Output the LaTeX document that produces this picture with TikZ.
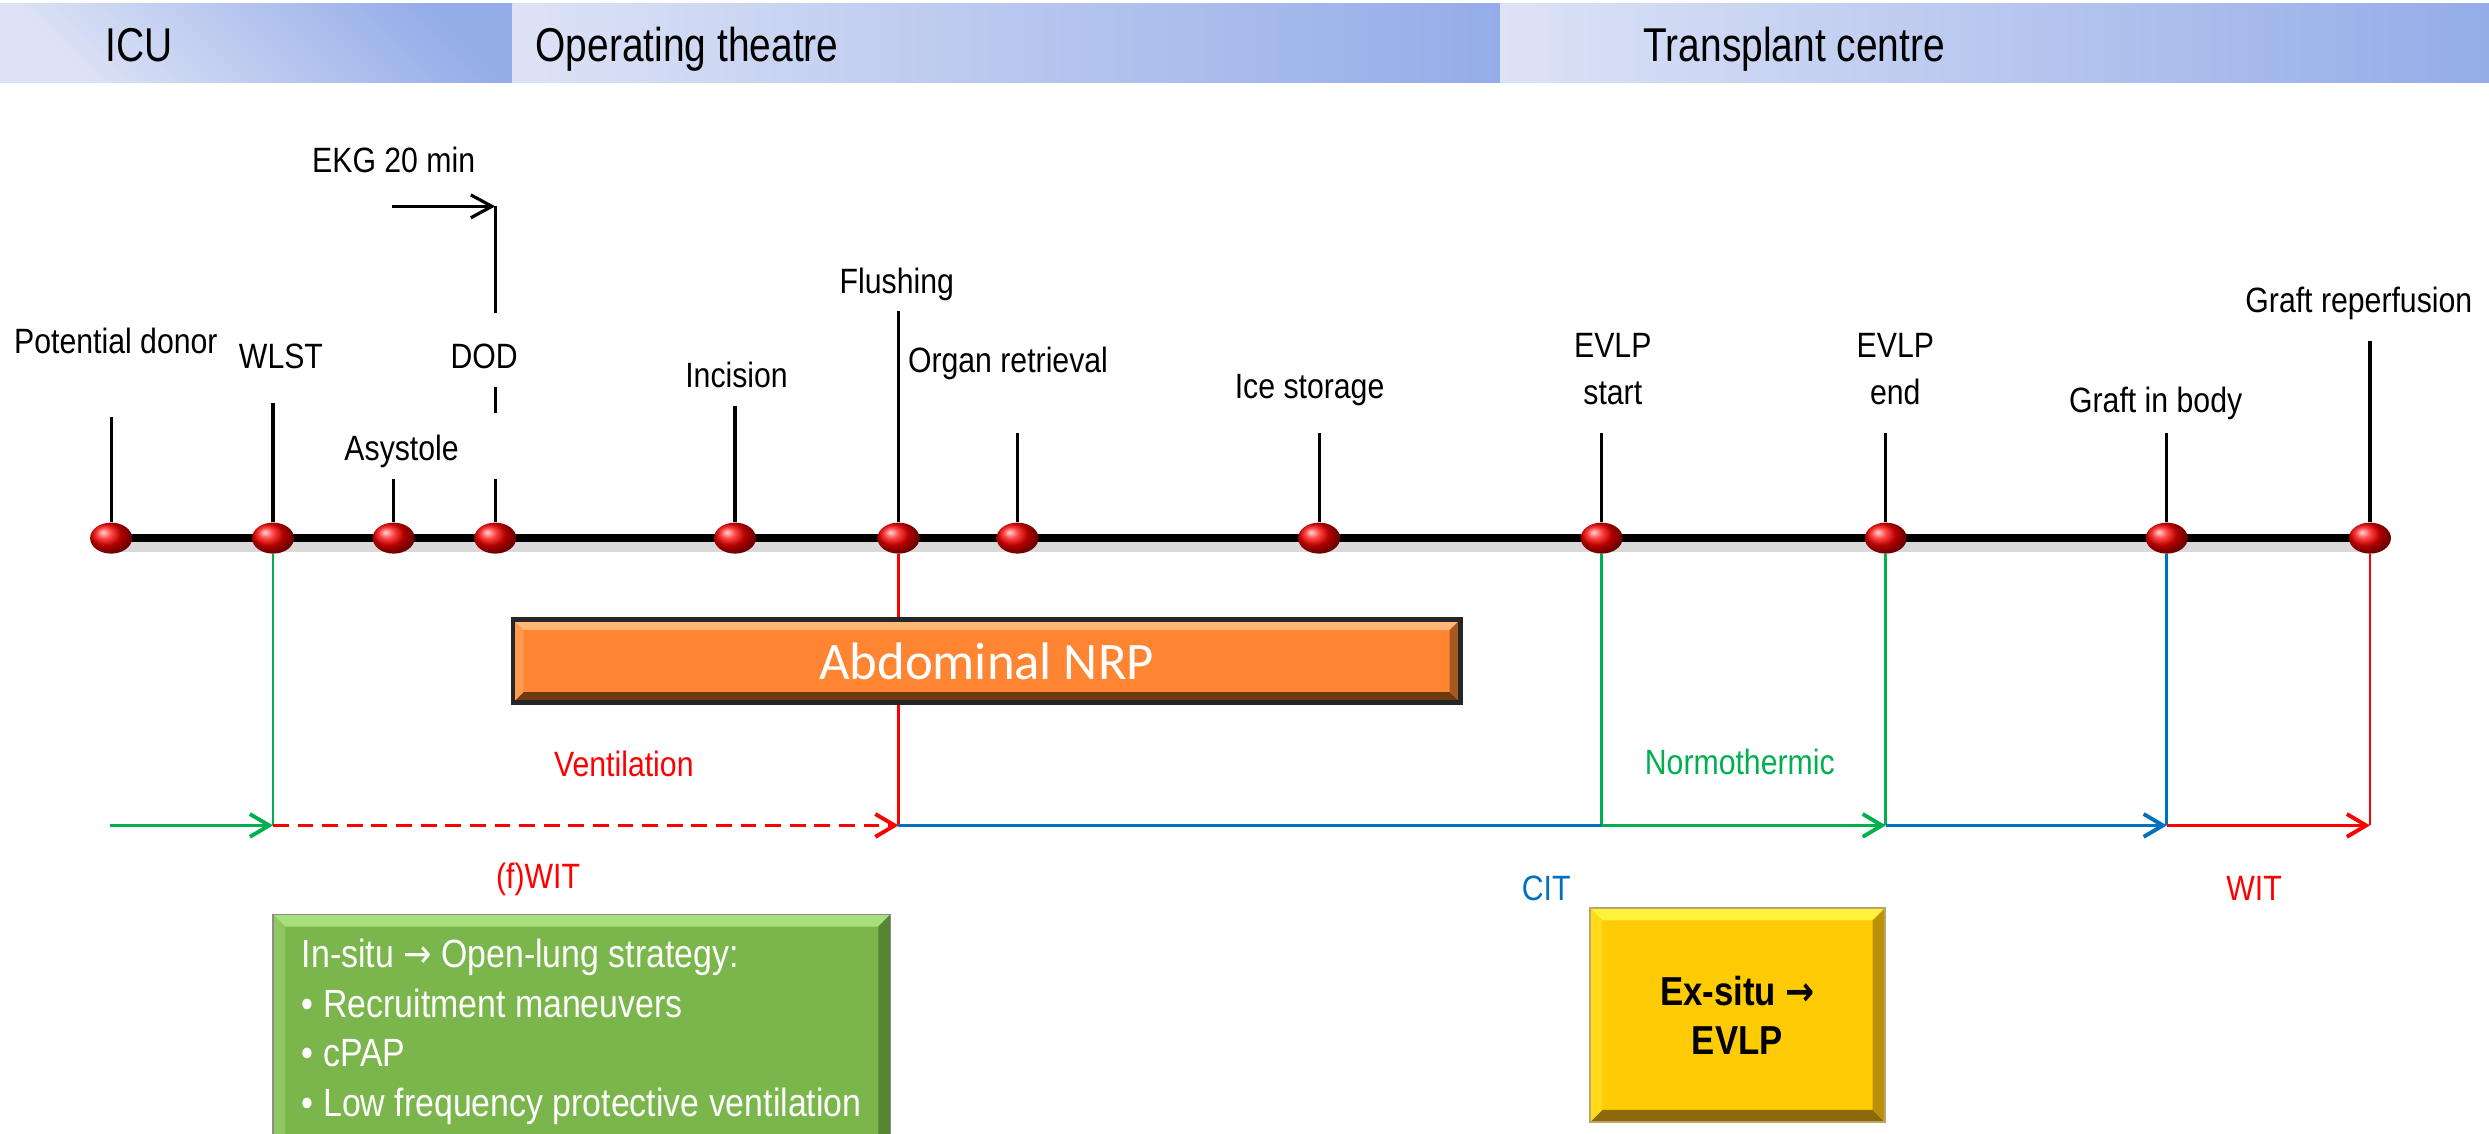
\documentclass[tikz,border=0pt]{standalone}
\usepackage{fontspec}
\setmainfont{Liberation Sans}[FakeStretch=0.86]
\newfontfamily\headfont{Liberation Sans}[FakeStretch=0.82]
\newfontfamily\nrpfont{Carlito}
\newfontfamily\arrowfont{DejaVu Sans}[FakeStretch=0.86]
\usetikzlibrary{positioning}
\usetikzlibrary{arrows.meta}
\usetikzlibrary{shapes.geometric}
\usetikzlibrary{backgrounds}

\definecolor{bandlight}{HTML}{DDE3F6}
\definecolor{banddark}{HTML}{94ACE8}
\definecolor{pptred}{HTML}{FF0000}
\definecolor{pptgreen}{HTML}{00B050}
\definecolor{pptblue}{HTML}{0070C0}
\definecolor{nrporange}{HTML}{FF8533}
\definecolor{nrplight}{HTML}{FFB877}
\definecolor{nrpdark}{HTML}{6E3A12}
\definecolor{boxgreen}{HTML}{7AB64B}
\definecolor{greenlight}{HTML}{A8E07C}
\definecolor{greendark}{HTML}{3E6624}
\definecolor{boxyellow}{HTML}{FFCB05}
\definecolor{yellowlight}{HTML}{FFF23A}
\definecolor{yellowdark}{HTML}{8C6A0C}

\tikzset{
    band/.style={left color=bandlight, right color=banddark},
    phase/.style={ % ICU / theatre / centre headings
        anchor=west, inner sep=0pt,
        font=\headfont\fontsize{13.5}{16}\selectfont,
        text height=9.6pt, text depth=0pt
    },
    event/.style={ % labels above the time line
        inner sep=0pt, font=\fontsize{10}{12}\selectfont,
        text height=7.2pt, text depth=0pt
    },
    period/.style={event, text=#1},
    dot/.style={
        ellipse, minimum width=0.42cm, minimum height=0.31cm, inner sep=0pt,
        shading=ball, ball color=red
    },
    tick/.style={line width=0.9pt},
    ekg/.style={tick, -{Straight Barb[length=6pt,width=6.5pt]}},
    vline/.style={line width=0.8pt, draw=#1},
    flow/.style={line width=1.1pt, draw=#1, -{Straight Barb[length=5.5pt,width=6.5pt]}},
    plain flow/.style={line width=1.1pt, draw=#1},
    bevel/.style n args={4}{ % fill, light edge, dark edge, edge width
        fill=#1,
        path picture={
            \coordinate (bsw) at (path picture bounding box.south west);
            \coordinate (bne) at (path picture bounding box.north east);
            \fill[#2] (bsw |- bne) -- (bne) -- ([shift={(-#4,-#4)}]bne) -- ([shift={(#4,-#4)}]bsw |- bne) -- cycle;
            \fill[#3] (bsw) -- (bne |- bsw) -- ([shift={(-#4,#4)}]bne |- bsw) -- ([shift={(#4,#4)}]bsw) -- cycle;
            \fill[#3!60!#1] (bne) -- (bne |- bsw) -- ([shift={(-#4,#4)}]bne |- bsw) -- ([shift={(-#4,-#4)}]bne) -- cycle;
            \fill[#2!40!#1] (bsw) -- (bsw |- bne) -- ([shift={(#4,-#4)}]bsw |- bne) -- ([shift={(#4,#4)}]bsw) -- cycle;
        }
    },
    nrp box/.style={
        bevel={nrporange}{nrplight}{nrpdark}{3pt},
        draw=black!85, line width=1.3pt,
        minimum width=9.47cm, minimum height=0.83cm,
        font=\nrpfont\fontsize{15}{18}\selectfont, text=white
    },
    insitu box/.style={
        bevel={boxgreen}{greenlight}{greendark}{3.5pt},
        draw=black!45, line width=0.4pt,
        minimum width=6.175cm, minimum height=2.35cm,
        align=left, inner xsep=0.05cm,
        font=\fontsize{11.2}{14.2}\selectfont, text=white
    },
    exsitu box/.style={
        bevel={boxyellow}{yellowlight}{yellowdark}{3.5pt},
        draw=yellowdark!60, line width=0.4pt,
        minimum width=2.95cm, minimum height=2.14cm,
        align=center, font=\bfseries\fontsize{11.5}{14}\selectfont
    }
}

\begin{document}
\begin{tikzpicture}[x=0.015874cm, y=-0.015874cm]
    \useasboundingbox (0,0) rectangle (1568,714);

    % location bands
    \shade[band, shading angle=135] (0,2.5) rectangle (323,52);
    \shade[band] (323,2.5) rectangle (945,52);
    \shade[band] (945,2.5) rectangle (1568,52);
    \node[phase] (icu) at (66,28) {ICU};
    \node[phase] (theatre) at (337,28) {Operating theatre};
    \node[phase] (centre) at (1035,28) {Transplant centre};

    % events on the time line
    \node[dot] (pd) at (70,339) {};
    \node[dot] (wlst) at (172,339) {};
    \node[dot] (asys) at (248,339) {};
    \node[dot] (dod) at (312,339) {};
    \node[dot] (inc) at (463,339) {};
    \node[dot] (flush) at (566,339) {};
    \node[dot] (retr) at (641,339) {};
    \node[dot] (ice) at (831,339) {};
    \node[dot] (evs) at (1009,339) {};
    \node[dot] (eve) at (1188,339) {};
    \node[dot] (gib) at (1365,339) {};
    \node[dot] (rep) at (1493,339) {};

    \node[event] (pdtxt) at (73,215) {Potential donor};
    \node[event] (wlsttxt) at (177,224) {WLST};
    \node[event] (asystxt) at (253,282) {Asystole};
    \node[event] (dodtxt) at (305,224) {DOD};
    \node[event] (ekgtxt) at (248,101) {EKG 20 min};
    \node[event] (inctxt) at (464,236) {Incision};
    \node[event] (flushtxt) at (565,177) {Flushing};
    \node[event] (retrtxt) at (635,227) {Organ retrieval};
    \node[event] (icetxt) at (825,243) {Ice storage};
    \node[event] (evstxt) at (1016,217) {EVLP};
    \node[event, below=2.1mm of evstxt] (evstxtb) {start};
    \node[event] (evetxt) at (1194,217) {EVLP};
    \node[event, below=2.1mm of evetxt] (evetxtb) {end};
    \node[event] (gibtxt) at (1358,252) {Graft in body};
    \node[event] (reptxt) at (1486,189) {Graft reperfusion};

    \coordinate (pdtop) at (70,263);
    \coordinate (wlsttop) at (172,254);
    \coordinate (asystop) at (248,302);
    \coordinate (dodtop) at (312,302);
    \coordinate (dodgapa) at (312,260);
    \coordinate (dodgapb) at (312,244);
    \coordinate (dodup) at (312,197);
    \coordinate (ekgcorner) at (312,130);
    \coordinate (ekgstart) at (247,130);
    \coordinate (inctop) at (463,256);
    \coordinate (flushtop) at (566,196);
    \coordinate (retrtop) at (641,273);
    \coordinate (icetop) at (831,273);
    \coordinate (evstop) at (1009,273);
    \coordinate (evetop) at (1188,273);
    \coordinate (gibtop) at (1365,273);
    \coordinate (reptop) at (1493,215);
    \coordinate (flowstart) at (69,520);

    \begin{scope}[on background layer]
        % time line with its shadow
        \draw[line width=3pt, black!15] ([yshift=-2.5pt]pd.center) -- ([yshift=-2.5pt]rep.center);
        \draw[line width=2.4pt] (pd.center) -- (rep.center);

        \draw[tick] (pd) -- (pdtop);
        \draw[tick] (wlst) -- (wlsttop);
        \draw[tick] (asys) -- (asystop);
        \draw[tick] (dod) -- (dodtop);
        \draw[tick] (dodgapa) -- (dodgapb);
        \draw[tick] (dodup) -- (ekgcorner);
        \draw[tick] (inc) -- (inctop);
        \draw[tick] (flush) -- (flushtop);
        \draw[tick] (retr) -- (retrtop);
        \draw[tick] (ice) -- (icetop);
        \draw[tick] (evs) -- (evstop);
        \draw[tick] (eve) -- (evetop);
        \draw[tick] (gib) -- (gibtop);
        \draw[tick] (rep) -- (reptop);

        % drops to the ischaemia line
        \draw[vline=pptgreen] (wlst) -- (wlst |- flowstart);
        \draw[vline=pptred] (flush) -- (flush |- flowstart);
        \draw[vline=pptgreen] (evs) -- (evs |- flowstart);
        \draw[vline=pptgreen] (eve) -- (eve |- flowstart);
        \draw[vline=pptblue] (gib) -- (gib |- flowstart);
        \draw[vline=pptred] (rep) -- (rep |- flowstart);
    \end{scope}

    \draw[ekg] (ekgstart) -- (ekgcorner);

    % ischaemia times
    \draw[flow=pptgreen] (flowstart) -- (wlst |- flowstart);
    \draw[flow=pptred, dash pattern=on 4.5pt off 2.5pt] (wlst |- flowstart) -- (flush |- flowstart);
    \draw[plain flow=pptblue] (flush |- flowstart) -- (evs |- flowstart);
    \draw[flow=pptgreen] (evs |- flowstart) -- (eve |- flowstart);
    \draw[flow=pptblue] (eve |- flowstart) -- (gib |- flowstart);
    \draw[flow=pptred] (gib |- flowstart) -- (rep |- flowstart);

    \node[period=pptred] (venttxt) at (393,481) {Ventilation};
    \node[period=pptred] (fwittxt) at (339,552) {(f)WIT};
    \node[period=pptgreen] (normtxt) at (1096,480) {Normothermic};
    \node[period=pptblue] (cittxt) at (974,559) {CIT};
    \node[period=pptred] (wittxt) at (1420,559) {WIT};

    % boxes
    \node[nrp box] (nrp) at (621.5,416.5) {Abdominal NRP};
    \node[insitu box] (insitu) at (366.5,650) {In-situ {\arrowfont →} Open-lung strategy:\\
        • Recruitment maneuvers\\
        • cPAP\\
        • Low frequency protective ventilation};
    \node[exsitu box] (exsitu) at (1094.5,639.5) {Ex-situ {\arrowfont →}\\EVLP};
\end{tikzpicture}
\end{document}
